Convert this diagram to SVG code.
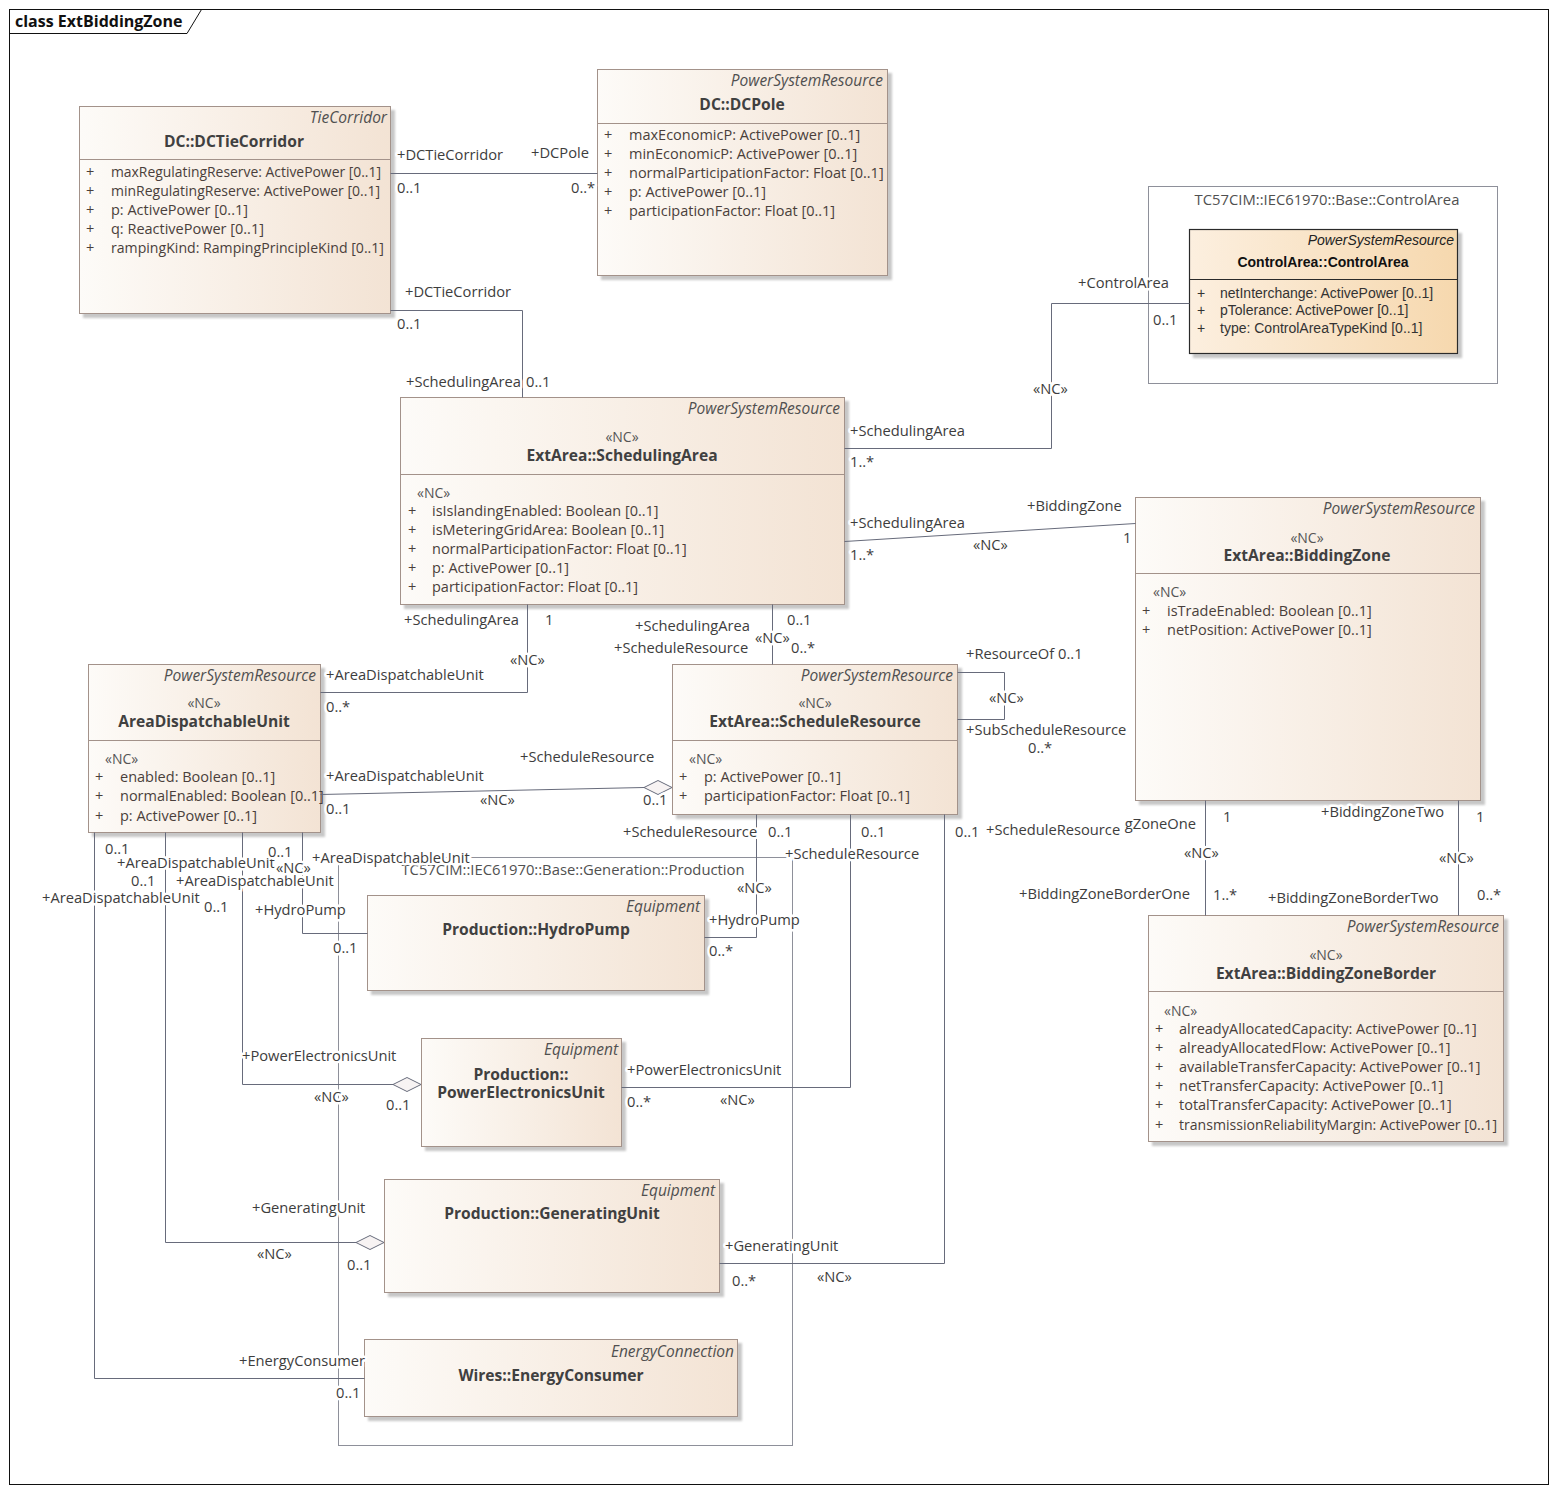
<svg xmlns="http://www.w3.org/2000/svg" width="1557" height="1492" viewBox="0 0 1557 1492">
<defs>
<linearGradient id="gBox" x1="0" y1="0" x2="1" y2="0">
<stop offset="0" stop-color="#fdfbf8"/>
<stop offset="1" stop-color="#f3e3d4"/>
</linearGradient>
<linearGradient id="gCA" x1="0" y1="0" x2="1" y2="0">
<stop offset="0" stop-color="#fcefdf"/>
<stop offset="1" stop-color="#f6d8ae"/>
</linearGradient>
<filter id="sh" x="-5%" y="-5%" width="115%" height="115%">
<feDropShadow dx="4" dy="4" stdDeviation="1.2" flood-color="#000" flood-opacity="0.22"/>
</filter>
<clipPath id="clipBZO"><rect x="1124" y="810" width="80" height="30"/></clipPath>
<style>
text{font-family:"Open Sans","Noto Sans","DejaVu Sans",sans-serif;font-size:14.5px}
.box{fill:url(#gBox);stroke:#a3928a;stroke-width:1;filter:url(#sh)}
.sep{stroke:#a3928a;stroke-width:1}
.st{font-style:italic;fill:#505050;text-anchor:end;font-size:15.5px}
.nm{font-weight:bold;fill:#404040;text-anchor:middle;font-size:15.6px}
.nc{fill:#555;font-size:14px}
.ncm{fill:#555;font-size:14px;text-anchor:middle}
.at{fill:#4a3f3b}
.pkg{fill:none;stroke:#8e909a;stroke-width:1}
.pl{fill:#505050;font-size:14.8px}
.conn{fill:none;stroke:#676b7b;stroke-width:1}
.dia{fill:#f7f3f3;stroke:#676b7b;stroke-width:1}
.lbl{fill:#3d3d3d;font-size:14.7px;paint-order:stroke;stroke:#fff;stroke-width:5;stroke-linejoin:round}
.ca text{font-family:"Liberation Sans",Arial,sans-serif;font-size:14px}
</style>
</defs>
<rect x="0" y="0" width="1557" height="1492" fill="#fff"/>
<g id="frame">
<rect x="9.5" y="9.5" width="1539" height="1475" fill="none" stroke="#111" stroke-width="1"/>
<path d="M9.5,33.5 H187 L201.5,9.5" fill="none" stroke="#111" stroke-width="1"/>
<text x="15" y="27" style="font-weight:bold;fill:#111;font-size:16px">class ExtBiddingZone</text>
</g>

<g id="pkg-controlarea">
<rect class="pkg" x="1148.5" y="186.5" width="349" height="197"/>
<text class="pl" x="1327" y="205" text-anchor="middle">TC57CIM::IEC61970::Base::ControlArea</text>
</g>
<g id="pkg-production">
<rect class="pkg" x="338.5" y="857.5" width="454" height="588"/>
<text class="pl" x="573" y="875" text-anchor="middle">TC57CIM::IEC61970::Base::Generation::Production</text>
</g>

<g id="DCTieCorridor">
<rect class="box" x="79.5" y="106.5" width="311" height="207"/>
<line class="sep" x1="79.5" y1="159.5" x2="390.5" y2="159.5"/>
<text class="st" x="387" y="123">TieCorridor</text>
<text class="nm" x="234" y="147">DC::DCTieCorridor</text>
<text class="at" x="86" y="177">+</text><text class="at" x="111" y="177" textLength="270" lengthAdjust="spacingAndGlyphs">maxRegulatingReserve: ActivePower [0..1]</text>
<text class="at" x="86" y="196">+</text><text class="at" x="111" y="196" textLength="269" lengthAdjust="spacingAndGlyphs">minRegulatingReserve: ActivePower [0..1]</text>
<text class="at" x="86" y="215">+</text><text class="at" x="111" y="215">p: ActivePower [0..1]</text>
<text class="at" x="86" y="234">+</text><text class="at" x="111" y="234">q: ReactivePower [0..1]</text>
<text class="at" x="86" y="253">+</text><text class="at" x="111" y="253" textLength="273" lengthAdjust="spacingAndGlyphs">rampingKind: RampingPrincipleKind [0..1]</text>
</g>

<g id="DCPole">
<rect class="box" x="597.5" y="69.5" width="290" height="206"/>
<line class="sep" x1="597.5" y1="123.5" x2="887.5" y2="123.5"/>
<text class="st" x="883" y="86">PowerSystemResource</text>
<text class="nm" x="742" y="110">DC::DCPole</text>
<text class="at" x="604" y="140">+</text><text class="at" x="629" y="140">maxEconomicP: ActivePower [0..1]</text>
<text class="at" x="604" y="159">+</text><text class="at" x="629" y="159">minEconomicP: ActivePower [0..1]</text>
<text class="at" x="604" y="178">+</text><text class="at" x="629" y="178">normalParticipationFactor: Float [0..1]</text>
<text class="at" x="604" y="197">+</text><text class="at" x="629" y="197">p: ActivePower [0..1]</text>
<text class="at" x="604" y="216">+</text><text class="at" x="629" y="216">participationFactor: Float [0..1]</text>
</g>

<g id="ControlArea" class="ca">
<rect x="1189.5" y="229.5" width="268" height="124" fill="url(#gCA)" stroke="#2a2a2a" stroke-width="1.2" filter="url(#sh)"/>
<line x1="1189.5" y1="279.5" x2="1457.5" y2="279.5" stroke="#2a2a2a" stroke-width="1.2"/>
<text x="1454" y="245" style="font-style:italic;fill:#222;text-anchor:end">PowerSystemResource</text>
<text x="1323" y="267" style="font-weight:bold;fill:#111;text-anchor:middle">ControlArea::ControlArea</text>
<text x="1197" y="298" fill="#333">+</text><text x="1220" y="298" fill="#333">netInterchange: ActivePower [0..1]</text>
<text x="1197" y="315" fill="#333">+</text><text x="1220" y="315" fill="#333">pTolerance: ActivePower [0..1]</text>
<text x="1197" y="333" fill="#333">+</text><text x="1220" y="333" fill="#333">type: ControlAreaTypeKind [0..1]</text>
</g>

<g id="SchedulingArea">
<rect class="box" x="400.5" y="397.5" width="444" height="207"/>
<line class="sep" x1="400.5" y1="474.5" x2="844.5" y2="474.5"/>
<text class="st" x="840" y="414">PowerSystemResource</text>
<text class="ncm" x="622" y="442">«NC»</text>
<text class="nm" x="622" y="461">ExtArea::SchedulingArea</text>
<text class="nc" x="417" y="498">«NC»</text>
<text class="at" x="408" y="516">+</text><text class="at" x="432" y="516">isIslandingEnabled: Boolean [0..1]</text>
<text class="at" x="408" y="535">+</text><text class="at" x="432" y="535">isMeteringGridArea: Boolean [0..1]</text>
<text class="at" x="408" y="554">+</text><text class="at" x="432" y="554">normalParticipationFactor: Float [0..1]</text>
<text class="at" x="408" y="573">+</text><text class="at" x="432" y="573">p: ActivePower [0..1]</text>
<text class="at" x="408" y="592">+</text><text class="at" x="432" y="592">participationFactor: Float [0..1]</text>
</g>

<g id="BiddingZone">
<rect class="box" x="1135.5" y="497.5" width="345" height="303"/>
<line class="sep" x1="1135.5" y1="573.5" x2="1480.5" y2="573.5"/>
<text class="st" x="1475" y="514">PowerSystemResource</text>
<text class="ncm" x="1307" y="543">«NC»</text>
<text class="nm" x="1307" y="561">ExtArea::BiddingZone</text>
<text class="nc" x="1153" y="597">«NC»</text>
<text class="at" x="1142" y="616">+</text><text class="at" x="1167" y="616">isTradeEnabled: Boolean [0..1]</text>
<text class="at" x="1142" y="635">+</text><text class="at" x="1167" y="635">netPosition: ActivePower [0..1]</text>
</g>

<g id="AreaDispatchableUnit">
<rect class="box" x="88.5" y="664.5" width="232" height="168"/>
<line class="sep" x1="88.5" y1="740.5" x2="320.5" y2="740.5"/>
<text class="st" x="316" y="681">PowerSystemResource</text>
<text class="ncm" x="204" y="708">«NC»</text>
<text class="nm" x="204" y="727">AreaDispatchableUnit</text>
<text class="nc" x="105" y="764">«NC»</text>
<text class="at" x="95" y="782">+</text><text class="at" x="120" y="782">enabled: Boolean [0..1]</text>
<text class="at" x="95" y="801">+</text><text class="at" x="120" y="801">normalEnabled: Boolean [0..1]</text>
<text class="at" x="95" y="821">+</text><text class="at" x="120" y="821">p: ActivePower [0..1]</text>
</g>

<g id="ScheduleResource">
<rect class="box" x="672.5" y="664.5" width="285" height="150"/>
<line class="sep" x1="672.5" y1="740.5" x2="957.5" y2="740.5"/>
<text class="st" x="953" y="681">PowerSystemResource</text>
<text class="ncm" x="815" y="708">«NC»</text>
<text class="nm" x="815" y="727">ExtArea::ScheduleResource</text>
<text class="nc" x="689" y="764">«NC»</text>
<text class="at" x="679" y="782">+</text><text class="at" x="704" y="782">p: ActivePower [0..1]</text>
<text class="at" x="679" y="801">+</text><text class="at" x="704" y="801">participationFactor: Float [0..1]</text>
</g>

<g id="BiddingZoneBorder">
<rect class="box" x="1148.5" y="915.5" width="355" height="226"/>
<line class="sep" x1="1148.5" y1="991.5" x2="1503.5" y2="991.5"/>
<text class="st" x="1499" y="932">PowerSystemResource</text>
<text class="ncm" x="1326" y="960">«NC»</text>
<text class="nm" x="1326" y="979">ExtArea::BiddingZoneBorder</text>
<text class="nc" x="1164" y="1016">«NC»</text>
<text class="at" x="1155" y="1034">+</text><text class="at" x="1179" y="1034">alreadyAllocatedCapacity: ActivePower [0..1]</text>
<text class="at" x="1155" y="1053">+</text><text class="at" x="1179" y="1053">alreadyAllocatedFlow: ActivePower [0..1]</text>
<text class="at" x="1155" y="1072">+</text><text class="at" x="1179" y="1072">availableTransferCapacity: ActivePower [0..1]</text>
<text class="at" x="1155" y="1091">+</text><text class="at" x="1179" y="1091">netTransferCapacity: ActivePower [0..1]</text>
<text class="at" x="1155" y="1110">+</text><text class="at" x="1179" y="1110">totalTransferCapacity: ActivePower [0..1]</text>
<text class="at" x="1155" y="1130">+</text><text class="at" x="1179" y="1130" textLength="318" lengthAdjust="spacingAndGlyphs">transmissionReliabilityMargin: ActivePower [0..1]</text>
</g>

<g id="HydroPump">
<rect class="box" x="367.5" y="895.5" width="337" height="95"/>
<text class="st" x="700" y="912">Equipment</text>
<text class="nm" x="536" y="935">Production::HydroPump</text>
</g>

<g id="PowerElectronicsUnit">
<rect class="box" x="421.5" y="1038.5" width="200" height="108"/>
<text class="st" x="618" y="1055">Equipment</text>
<text class="nm" x="521" y="1080">Production::</text>
<text class="nm" x="521" y="1098">PowerElectronicsUnit</text>
</g>

<g id="GeneratingUnit">
<rect class="box" x="384.5" y="1179.5" width="335" height="113"/>
<text class="st" x="715" y="1196">Equipment</text>
<text class="nm" x="552" y="1219">Production::GeneratingUnit</text>
</g>

<g id="EnergyConsumer">
<rect class="box" x="364.5" y="1339.5" width="373" height="77"/>
<text class="st" x="734" y="1357">EnergyConnection</text>
<text class="nm" x="551" y="1381">Wires::EnergyConsumer</text>
</g>

<g id="connectors">
<path class="conn" d="M390.5,173.5 H597.5"/>
<path class="conn" d="M390.5,310.5 H522.5 V397.5"/>
<path class="conn" d="M844.5,448.5 H1051.5 V303.5 H1189.5"/>
<path class="conn" d="M844.5,541.5 L1135.5,523.5"/>
<path class="conn" d="M527.5,604.5 V692.5 H320.5"/>
<path class="conn" d="M772.5,604.5 V664.5"/>
<path class="conn" d="M957.5,672.5 H1004.5 V719.5 H957.5"/>
<path class="conn" d="M320.5,794.5 L644,787.5"/>
<polygon class="dia" points="644,787.5 658,780.5 672,787.5 658,794.5"/>
<path class="conn" d="M1205.5,800.5 V915.5"/>
<path class="conn" d="M1458.5,800.5 V915.5"/>
<path class="conn" d="M756.5,814.5 V937.5 H704.5"/>
<path class="conn" d="M850.5,814.5 V1087.5 H621.5"/>
<path class="conn" d="M944.5,814.5 V1263.5 H719.5"/>
<path class="conn" d="M302.5,832.5 V933.5 H367.5"/>
<path class="conn" d="M242.5,832.5 V1084.5 H393"/>
<polygon class="dia" points="393,1084.5 407,1077.5 421,1084.5 407,1091.5"/>
<path class="conn" d="M165.5,832.5 V1242.5 H356"/>
<polygon class="dia" points="356,1242.5 370,1235.5 384,1242.5 370,1249.5"/>
<path class="conn" d="M94.5,832.5 V1378.5 H364.5"/>
</g>

<g id="labels">
<text class="lbl" x="397" y="160">+DCTieCorridor</text>
<text class="lbl" x="397" y="193">0..1</text>
<text class="lbl" x="531" y="158">+DCPole</text>
<text class="lbl" x="571" y="193">0..*</text>

<text class="lbl" x="405" y="297">+DCTieCorridor</text>
<text class="lbl" x="397" y="329">0..1</text>
<text class="lbl" x="406" y="387">+SchedulingArea</text>
<text class="lbl" x="526" y="387">0..1</text>

<text class="lbl" x="1078" y="288">+ControlArea</text>
<text class="lbl" x="1153" y="325">0..1</text>
<text class="lbl" x="1033" y="394">«NC»</text>
<text class="lbl" x="850" y="436">+SchedulingArea</text>
<text class="lbl" x="850" y="467">1..*</text>

<text class="lbl" x="850" y="528">+SchedulingArea</text>
<text class="lbl" x="850" y="560">1..*</text>
<text class="lbl" x="1027" y="511">+BiddingZone</text>
<text class="lbl" x="1123" y="543">1</text>
<text class="lbl" x="973" y="550">«NC»</text>

<text class="lbl" x="404" y="625">+SchedulingArea</text>
<text class="lbl" x="545" y="625">1</text>
<text class="lbl" x="510" y="665">«NC»</text>
<text class="lbl" x="326" y="680">+AreaDispatchableUnit</text>
<text class="lbl" x="326" y="712">0..*</text>

<text class="lbl" x="635" y="631">+SchedulingArea</text>
<text class="lbl" x="787" y="625">0..1</text>
<text class="lbl" x="614" y="653">+ScheduleResource</text>
<text class="lbl" x="755" y="643">«NC»</text>
<text class="lbl" x="791" y="653">0..*</text>

<text class="lbl" x="966" y="659">+ResourceOf 0..1</text>
<text class="lbl" x="989" y="703">«NC»</text>
<text class="lbl" x="966" y="735">+SubScheduleResource</text>
<text class="lbl" x="1028" y="753">0..*</text>

<text class="lbl" x="326" y="781">+AreaDispatchableUnit</text>
<text class="lbl" x="326" y="814">0..1</text>
<text class="lbl" x="520" y="762">+ScheduleResource</text>
<text class="lbl" x="643" y="805">0..1</text>
<text class="lbl" x="480" y="805">«NC»</text>

<text class="lbl" x="1196" y="829" text-anchor="end" clip-path="url(#clipBZO)">+BiddingZoneOne</text>
<text class="lbl" x="1223" y="822">1</text>
<text class="lbl" x="1184" y="858">«NC»</text>
<text class="lbl" x="1019" y="899">+BiddingZoneBorderOne</text>
<text class="lbl" x="1213" y="900">1..*</text>

<text class="lbl" x="1321" y="817">+BiddingZoneTwo</text>
<text class="lbl" x="1476" y="822">1</text>
<text class="lbl" x="1439" y="863">«NC»</text>
<text class="lbl" x="1268" y="903">+BiddingZoneBorderTwo</text>
<text class="lbl" x="1477" y="900">0..*</text>

<text class="lbl" x="623" y="837">+ScheduleResource</text>
<text class="lbl" x="768" y="837">0..1</text>
<text class="lbl" x="737" y="893">«NC»</text>
<text class="lbl" x="709" y="925">+HydroPump</text>
<text class="lbl" x="709" y="956">0..*</text>

<text class="lbl" x="861" y="837">0..1</text>
<text class="lbl" x="785" y="859">+ScheduleResource</text>
<text class="lbl" x="627" y="1075">+PowerElectronicsUnit</text>
<text class="lbl" x="627" y="1107">0..*</text>
<text class="lbl" x="720" y="1105">«NC»</text>

<text class="lbl" x="955" y="837">0..1</text>
<text class="lbl" x="986" y="835">+ScheduleResource</text>
<text class="lbl" x="725" y="1251">+GeneratingUnit</text>
<text class="lbl" x="732" y="1286">0..*</text>
<text class="lbl" x="817" y="1282">«NC»</text>

<text class="lbl" x="117" y="868">+AreaDispatchableUnit</text>
<text class="lbl" x="131" y="886">0..1</text>
<text class="lbl" x="252" y="1213">+GeneratingUnit</text>
<text class="lbl" x="257" y="1259">«NC»</text>
<text class="lbl" x="347" y="1270">0..1</text>

<text class="lbl" x="176" y="886">+AreaDispatchableUnit</text>
<text class="lbl" x="204" y="912">0..1</text>
<text class="lbl" x="242" y="1061">+PowerElectronicsUnit</text>
<text class="lbl" x="314" y="1102">«NC»</text>
<text class="lbl" x="386" y="1110">0..1</text>

<text class="lbl" x="268" y="857">0..1</text>
<text class="lbl" x="276" y="873">«NC»</text>
<text class="lbl" x="312" y="863">+AreaDispatchableUnit</text>
<text class="lbl" x="255" y="915">+HydroPump</text>
<text class="lbl" x="333" y="953">0..1</text>

<text class="lbl" x="105" y="854">0..1</text>
<text class="lbl" x="42" y="903">+AreaDispatchableUnit</text>
<text class="lbl" x="239" y="1366">+EnergyConsumer</text>
<text class="lbl" x="336" y="1398">0..1</text>
</g>
</svg>
